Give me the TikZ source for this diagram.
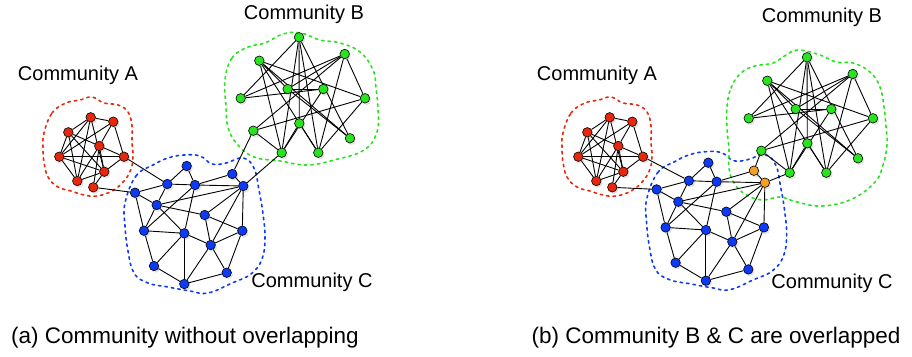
\documentclass[tikz,border=0pt]{standalone}
\usepackage{fontspec}
\setmainfont{Liberation Sans}
\usetikzlibrary{backgrounds,shadows}

\definecolor{commred}{RGB}{232,40,12}
\definecolor{commgreen}{RGB}{40,228,30}
\definecolor{commblue}{RGB}{12,58,245}
\definecolor{commorange}{RGB}{245,160,30}

\tikzset{
  vtx/.style={circle, draw=black, line width=0.6pt, inner sep=0pt, minimum size=9.5pt,
    drop shadow={opacity=0.22, shadow xshift=1.5pt, shadow yshift=-2pt}},
  redv/.style={vtx, fill=commred},
  greenv/.style={vtx, fill=commgreen},
  bluev/.style={vtx, fill=commblue},
  orangev/.style={vtx, fill=commorange},
  link/.style={line width=0.9pt},
  hull/.style={dash pattern=on 2.5pt off 4pt, line width=1.6pt, line cap=round},
  commlabel/.style={font=\fontsize{20}{22}\selectfont},
  caption/.style={font=\fontsize{22.5}{25}\selectfont}
}

% vertex positions (left picture)
\newcommand\nodesA{a1/90.7/117.3, a2/113.3/121.7, a3/68.3/132.3, a4/99.3/146,
  a5/59.3/156.7, a6/124/156.7, a7/104.3/171.7, a8/77.3/181, a9/93.3/187.3}
\newcommand\nodesB{b1/299/37.3, b2/259.3/60.7, b3/344.7/54, b4/287.7/89,
  b5/323.3/89, b6/240.7/98.3, b7/365/98.3, b8/299.3/123.3, b9/253.3/130.7,
  b10/350/138.3, b11/281.7/152.7, b12/318.3/152.7}
\newcommand\nodesC{c1/186.7/166, c2/167.3/184, c3/195/185, c6/135/192.7,
  c7/156.7/205, c8/204.7/215, c9/144/230.7, c10/184.3/233.3, c11/242.3/230.7,
  c12/210.7/245, c13/154/266, c14/226.7/272.7, c15/184.3/284}
\newcommand\nodesCx{c4/232.3/174, c5/243.3/186}

% edges
\newcommand\edgesA{a1/a2, a1/a3, a1/a5, a1/a7, a1/a8, a2/a4, a2/a5, a2/a6,
  a3/a5, a3/a6, a3/a7, a3/a8, a4/a7, a4/a8, a4/a9, a5/a6, a5/a7, a5/a8,
  a6/a7, a7/a8, a7/a9}
\newcommand\edgesB{b1/b6, b1/b8, b1/b11, b1/b12, b1/b10, b2/b4, b2/b7, b2/b10,
  b2/b11, b2/b12, b3/b6, b3/b4, b3/b9, b3/b12, b3/b7, b4/b5, b4/b10, b5/b6,
  b5/b11, b7/b9, b7/b12, b8/b11, b8/b12, b9/b11}
\newcommand\edgesC{c1/c2, c1/c3, c2/c3, c2/c6, c2/c7, c3/c4, c3/c5, c3/c9,
  c3/c10, c4/c5, c5/c7, c5/c8, c5/c11, c5/c12, c6/c7, c6/c9, c7/c8, c7/c9,
  c7/c10, c8/c11, c8/c12, c9/c10, c9/c13, c10/c12, c10/c13, c10/c15, c11/c12,
  c11/c14, c12/c14, c12/c15, c13/c15, c14/c15}
\newcommand\edgesX{a6/c2, a9/c6, b9/c4, b11/c5}

% dashed outlines
\newcommand\hullA{\draw[hull, commred] plot[smooth cycle, tension=0.7] coordinates {
  (44,133) (52,113) (66,103) (80,100) (92,97) (104,103) (118,105) (128,112)
  (132,126) (132,142) (133,156) (131,169) (124,181) (112,191) (97,196)
  (84,195) (71,191) (58,187) (48,177) (44,162) (43,148)};}
\newcommand\hullC{\draw[hull, commblue] plot[smooth cycle, tension=0.7] coordinates {
  (125,203) (136,176) (153,165) (168,158) (184,155) (200,156) (212,164)
  (226,163) (243,158) (254,168) (259,190) (263,214) (265,238) (262,259)
  (251,274) (232,283) (208,293) (190,291) (168,287) (148,283) (134,273)
  (128,251) (125,226)};}
\newcommand\hullB{\draw[hull, commgreen] plot[smooth cycle, tension=0.7] coordinates {
  (225,80) (232,58) (248,47) (265,43) (283,34) (301,33) (320,40) (340,43)
  (360,52) (373,70) (376,88) (378,110) (377,132) (364,150) (334,160)
  (307,165) (280,161) (254,157) (237,144) (228,127) (226,106)};}

\begin{document}
\begin{tikzpicture}[x=1pt, y=-1pt]
  \useasboundingbox (0,0) rectangle (912,356);

  % (a) left picture
  \foreach \n/\x/\y in \nodesA {\node[redv] (l\n) at (\x,\y) {};}
  \foreach \n/\x/\y in \nodesB {\node[greenv] (l\n) at (\x,\y) {};}
  \foreach \n/\x/\y in \nodesC {\node[bluev] (l\n) at (\x,\y) {};}
  \foreach \n/\x/\y in \nodesCx {\node[bluev] (l\n) at (\x,\y) {};}

  % (b) right picture
  \foreach \n/\x/\y in \nodesA {\node[redv] (r\n) at (\x+519,\y) {};}
  \foreach \n/\x/\y in \nodesB {\node[greenv] (r\n) at (\x+508,\y+20) {};}
  \foreach \n/\x/\y in \nodesC {\node[bluev] (r\n) at (\x+521.6,\y-3.3) {};}
  \foreach \n/\x/\y in \nodesCx {\node[orangev] (r\n) at (\x+521.6,\y-3.3) {};}

  \begin{pgfonlayer}{background}
    \fill[white] (0,0) rectangle (912,356);
    \hullA \hullB \hullC
    \begin{scope}[shift={(519,0)}] \hullA \end{scope}
    \begin{scope}[shift={(521.6,-3.3)}] \hullC \end{scope}
    \draw[hull, commgreen] plot[smooth cycle, tension=0.7] coordinates {
      (727,107) (731,88) (741,73) (755,66) (773,63) (786,55) (798,50)
      (820,55) (836,62) (853,63) (870,72) (880,87) (884,107) (886,127)
      (887,145) (883,165) (875,182) (852,199) (822,206) (797,202) (780,197)
      (762,200) (745,194) (734,183) (729,168) (729,150) (727,128)};
    \foreach \u/\v in \edgesA {\draw[link] (l\u) -- (l\v); \draw[link] (r\u) -- (r\v);}
    \foreach \u/\v in \edgesB {\draw[link] (l\u) -- (l\v); \draw[link] (r\u) -- (r\v);}
    \foreach \u/\v in \edgesC {\draw[link] (l\u) -- (l\v); \draw[link] (r\u) -- (r\v);}
    \foreach \u/\v in \edgesX {\draw[link] (l\u) -- (l\v); \draw[link] (r\u) -- (r\v);}
  \end{pgfonlayer}

  % labels
  \node[commlabel] (labAl) at (78,75) {Community A};
  \node[commlabel] (labBl) at (304,14) {Community B};
  \node[commlabel] (labCl) at (312,282) {Community C};
  \node[commlabel] (labAr) at (597,75) {Community A};
  \node[commlabel] (labBr) at (822,17) {Community B};
  \node[commlabel] (labCr) at (832,283) {Community C};
  \node[caption] (capa) at (185,338) {(a) Community without overlapping};
  \node[caption] (capb) at (716,338) {(b) Community B \& C are overlapped};
\end{tikzpicture}
\end{document}
